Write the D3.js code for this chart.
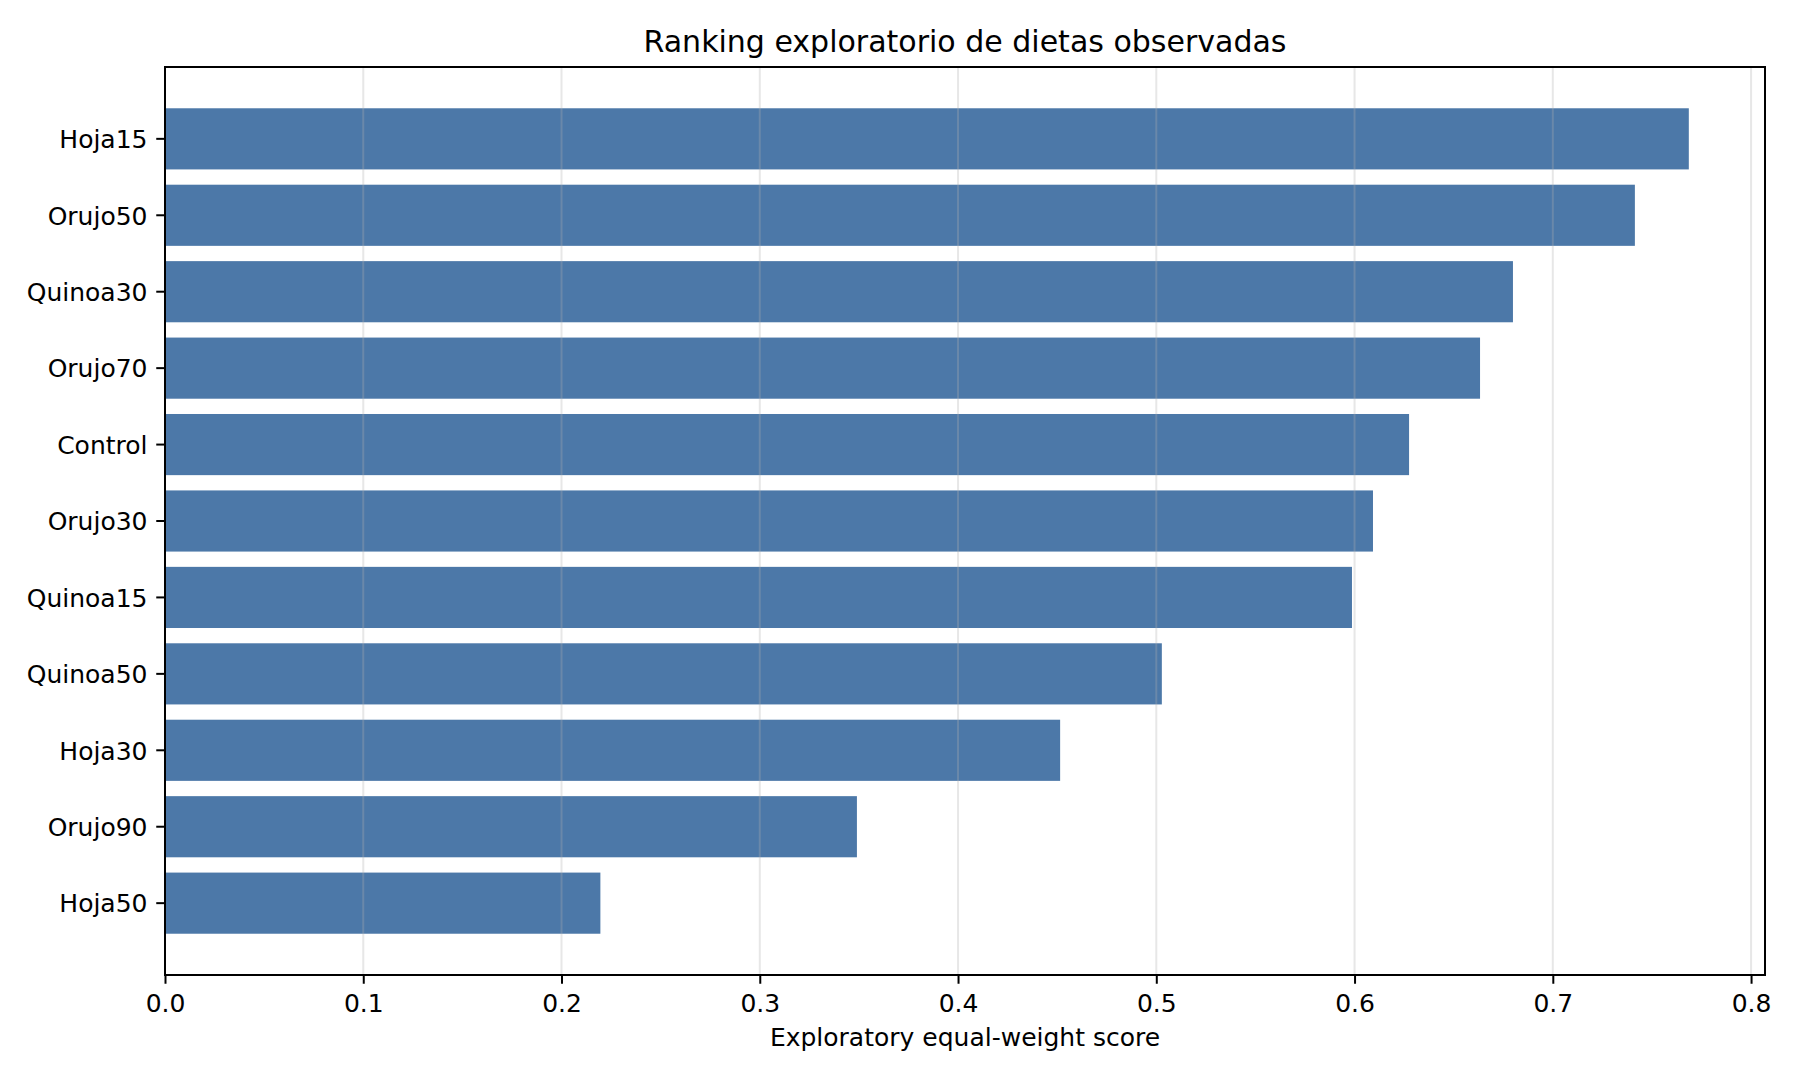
<!DOCTYPE html>
<html lang="es">
<head>
    <meta charset="UTF-8">
    <title>Ranking exploratorio de dietas observadas</title>
    <script src="https://d3js.org/d3.v7.min.js"></script>
    <style>
        body { margin: 0; background: #ffffff; }
        text { font-family: "DejaVu Sans", sans-serif; fill: #000000; }
    </style>
</head>
<body>
    <svg id="chart" width="1800" height="1080"></svg>
    <script>
        // data, top to bottom
        const dietas = ["Hoja15", "Orujo50", "Quinoa30", "Orujo70", "Control", "Orujo30",
                        "Quinoa15", "Quinoa50", "Hoja30", "Orujo90", "Hoja50"];
        const scores = [0.7686, 0.7414, 0.6799, 0.6633, 0.6275, 0.6093,
                        0.5987, 0.5028, 0.4515, 0.3490, 0.2196];
        const xTicks = [0.0, 0.1, 0.2, 0.3, 0.4, 0.5, 0.6, 0.7, 0.8];

        const width = 1800, height = 1080;
        const margin = { top: 67, right: 35, bottom: 105, left: 165 };
        const innerW = width - margin.left - margin.right;
        const innerH = height - margin.top - margin.bottom;

        const svg = d3.select("#chart");
        svg.append("rect").attr("width", width).attr("height", height).attr("fill", "#ffffff");

        const g = svg.append("g").attr("transform", `translate(${margin.left},${margin.top})`);

        // x scale with matplotlib-like 5% margin on the right
        const x = d3.scaleLinear()
            .domain([0, d3.max(scores) * 1.05])
            .range([0, innerW]);

        const y = d3.scaleBand()
            .domain(dietas)
            .range([0, innerH])
            .paddingInner(0.2)
            .paddingOuter(0.54);

        // bars
        g.selectAll("rect.bar")
            .data(dietas)
            .enter().append("rect")
            .attr("class", "bar")
            .attr("x", x(0))
            .attr("y", d => y(d))
            .attr("width", (d, i) => x(scores[i]) - x(0))
            .attr("height", y.bandwidth())
            .attr("fill", "#4c78a8");

        // vertical grid lines, drawn above the bars
        g.selectAll("line.grid")
            .data(xTicks)
            .enter().append("line")
            .attr("class", "grid")
            .attr("x1", d => x(d))
            .attr("x2", d => x(d))
            .attr("y1", 0)
            .attr("y2", innerH)
            .attr("stroke", "#b0b0b0")
            .attr("stroke-opacity", 0.3)
            .attr("stroke-width", 2);

        // x axis
        const xAxis = g.append("g")
            .attr("transform", `translate(0,${innerH})`)
            .call(d3.axisBottom(x).tickValues(xTicks).tickFormat(d3.format(".1f"))
                .tickSize(8.75).tickPadding(8.75));
        xAxis.select(".domain").remove();
        xAxis.selectAll(".tick line").attr("stroke", "#000").attr("stroke-width", 2);
        xAxis.selectAll(".tick text")
            .attr("font-size", 25)
            .attr("font-family", "DejaVu Sans")
            .attr("dy", "0.76em");

        // y axis
        const yAxis = g.append("g")
            .call(d3.axisLeft(y).tickSize(8.75).tickPadding(8.75));
        yAxis.select(".domain").remove();
        yAxis.selectAll(".tick line").attr("stroke", "#000").attr("stroke-width", 2);
        yAxis.selectAll(".tick text")
            .attr("font-size", 25)
            .attr("font-family", "DejaVu Sans")
            .attr("dy", "0.37em");

        // frame
        g.append("rect")
            .attr("x", 0).attr("y", 0)
            .attr("width", innerW).attr("height", innerH)
            .attr("fill", "none")
            .attr("stroke", "#000")
            .attr("stroke-width", 2);

        // title and axis label
        svg.append("text")
            .attr("x", margin.left + innerW / 2)
            .attr("y", margin.top - 15)
            .attr("text-anchor", "middle")
            .attr("font-size", 30)
            .text("Ranking exploratorio de dietas observadas");

        svg.append("text")
            .attr("x", margin.left + innerW / 2)
            .attr("y", 1046)
            .attr("text-anchor", "middle")
            .attr("font-size", 25)
            .text("Exploratory equal-weight score");
    </script>
</body>
</html>
